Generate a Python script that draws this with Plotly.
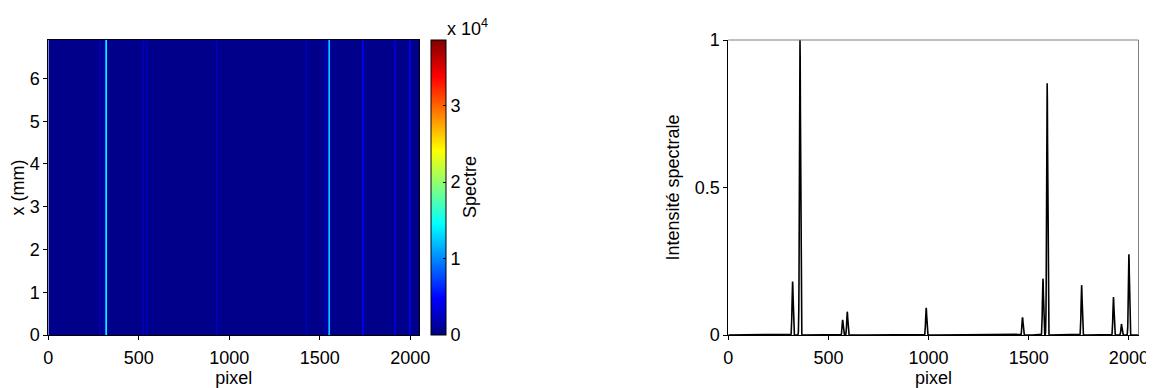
import numpy as np
import plotly.graph_objects as go

# ---- data ----
# heatmap: spectral lines (pixel position, counts) constant along x (mm)
map_line_pixels = [286, 319, 525, 544, 931, 1425, 1530, 1550, 1736, 1913, 1996]
map_line_counts = [2500, 19000, 2000, 2500, 2500, 2000, 2500, 16500, 5000, 3500, 5000]
map_background = 400
map_x_mm = [0.0, 6.9]          # row edges (mm)
n_pixels = 2048

# normalized spectrum peaks
spec_peak_pixels = [321, 358, 571, 594, 988, 1469, 1571, 1592, 1764, 1923, 1963, 2000]
spec_peak_heights = [0.181, 1.0, 0.051, 0.079, 0.092, 0.060, 0.191, 0.853, 0.169, 0.129, 0.037, 0.274]

pixel_ticks = [0, 500, 1000, 1500, 2000]
mm_ticks = [0, 1, 2, 3, 4, 5, 6]
cbar_ticks = [0, 10000, 20000, 30000]
cbar_ticktext = ["0", "1", "2", "3"]
spec_ticks = [0, 0.5, 1]
spec_ticktext = ["0", "0.5", "1"]

# ---- build traces ----
pix = np.arange(n_pixels) + 0.5
row = np.full(n_pixels, float(map_background))
for p, c in zip(map_line_pixels, map_line_counts):
    row += c * np.exp(-0.5 * ((pix - p) / 3.2) ** 2)
z = [row.tolist()]
x_edges = np.arange(n_pixels + 1)

spec_x = np.arange(n_pixels)
spec_y = np.zeros(n_pixels)
for p, h in zip(spec_peak_pixels, spec_peak_heights):
    spec_y += h * np.exp(-0.5 * ((spec_x - p) / 2.7) ** 2)

jet = [[0, "rgb(0,0,128)"], [0.125, "rgb(0,0,255)"], [0.375, "rgb(0,255,255)"],
       [0.625, "rgb(255,255,0)"], [0.875, "rgb(255,0,0)"], [1, "rgb(128,0,0)"]]

# the page body has an 8px default margin: lay out in page pixels minus 8
OFF = 8
W, H = 1154 - OFF, 388 - OFF
FONT = "Liberation Sans, Arial, sans-serif"
FS = 18


def px(xp):
    return (xp - OFF) / W


def py(yp):
    return 1 - (yp - OFF) / H


fig = go.Figure()
fig.add_trace(go.Heatmap(
    z=z, x=x_edges, y=map_x_mm, colorscale=jet, zmin=0, zmax=38600,
    xaxis="x", yaxis="y", hoverinfo="skip",
    colorbar=dict(
        x=px(430.5), xanchor="left", xpad=0, ypad=0,
        y=py(335), yanchor="bottom",
        lenmode="pixels", len=295, thicknessmode="pixels", thickness=15,
        outlinewidth=1, outlinecolor="black",
        tickmode="array", tickvals=cbar_ticks, ticktext=cbar_ticktext,
        ticks="inside", ticklen=3, tickcolor="black",
        tickfont=dict(family=FONT, size=FS, color="black"),
    ),
))
fig.add_trace(go.Scatter(
    x=spec_x, y=spec_y, mode="lines", line=dict(color="black", width=1.6),
    xaxis="x2", yaxis="y2", showlegend=False, hoverinfo="skip",
))

ydom = [py(335), py(40)]
axis_common = dict(showgrid=False, zeroline=False, ticks="outside", ticklen=4,
                   tickcolor="black", linecolor="black", linewidth=1, automargin=False,
                   tickfont=dict(family=FONT, size=FS, color="black"))

fig.update_layout(
    width=W, height=H, margin=dict(l=0, r=0, t=0, b=0, autoexpand=False),
    paper_bgcolor="white", plot_bgcolor="white", showlegend=False,
    font=dict(family=FONT, size=FS, color="black"),
    xaxis=dict(domain=[px(48.3), px(419)], range=[0, 2048], tickvals=pixel_ticks,
               showline=True, mirror=True, ticklabelstandoff=2,
               title=dict(text="pixel", standoff=0, font=dict(family=FONT, size=FS)),
               **axis_common),
    yaxis=dict(domain=ydom, range=[0, 6.9], tickvals=mm_ticks, anchor="x",
               showline=True, mirror=True,
               title=dict(text="x (mm)", standoff=4, font=dict(family=FONT, size=FS)),
               **axis_common),
    xaxis2=dict(domain=[px(728.3), px(1138.5)], range=[0, 2048], tickvals=pixel_ticks,
                anchor="y2", showline=True, ticklabelstandoff=2,
                title=dict(text="pixel", standoff=0, font=dict(family=FONT, size=FS)),
                **axis_common),
    yaxis2=dict(domain=ydom, range=[0, 1], tickvals=spec_ticks, ticktext=spec_ticktext,
                anchor="x2", showline=True,
                title=dict(text="Intensité spectrale", standoff=10, font=dict(family=FONT, size=FS)),
                **axis_common),
)

# gray top/right frame of the spectrum axes
fig.add_shape(type="line", xref="x2 domain", yref="y2 domain", x0=0, x1=1, y0=1, y1=1,
              line=dict(color="rgb(128,128,128)", width=1))
fig.add_shape(type="line", xref="x2 domain", yref="y2 domain", x0=1, x1=1, y0=0, y1=1,
              line=dict(color="rgb(128,128,128)", width=1))

# colorbar label and exponent
fig.add_annotation(text="Spectre", xref="paper", yref="paper", x=px(470), y=py(187),
                   textangle=-90, showarrow=False, font=dict(family=FONT, size=FS))
fig.add_annotation(text="x 10<sup>4</sup>", xref="paper", yref="paper", x=px(445), y=py(27),
                   xanchor="left", yanchor="middle", showarrow=False,
                   font=dict(family=FONT, size=FS))

fig.write_html("out.html")
